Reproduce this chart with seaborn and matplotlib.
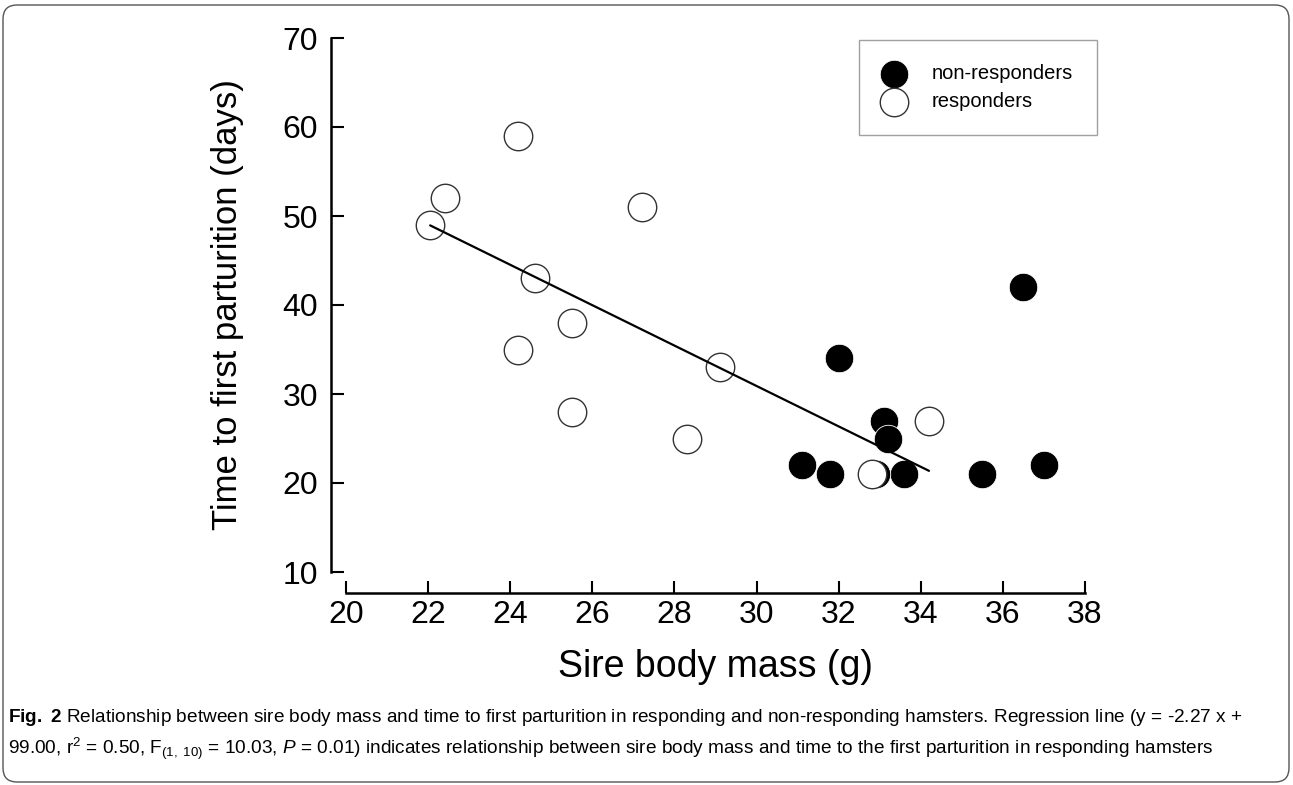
import numpy as np
import pandas as pd
import matplotlib
matplotlib.use("Agg")
import matplotlib.pyplot as plt
from matplotlib import font_manager
from matplotlib.patches import FancyBboxPatch
import seaborn as sns

# ---- data ----
# responders (open circles)
resp_mass = [22.05, 22.4, 24.2, 27.2, 24.6, 24.2, 25.5, 25.5, 28.3, 29.1, 34.2, 32.8]
resp_days = [49, 52, 59, 51, 43, 35, 38, 28, 25, 33, 27, 21]
# non-responders (filled circles)
nonresp_mass = [31.1, 31.8, 32.0, 33.1, 33.2, 33.6, 35.5, 36.5, 37.0, 32.9]
nonresp_days = [22, 21, 34, 27, 25, 21, 21, 42, 22, 21]

# regression line for responders, from the caption
slope, intercept = -2.27, 99.00

x_ticks = list(range(20, 39, 2))
y_ticks = list(range(10, 71, 10))

caption = (r"$\mathbf{Fig.\ 2}$ Relationship between sire body mass and time to first parturition in "
           r"responding and non-responding hamsters. Regression line (y = -2.27 x +" "\n"
           r"99.00, r$^2$ = 0.50, F$_{(1,\ 10)}$ = 10.03, $P$ = 0.01) indicates relationship between "
           r"sire body mass and time to the first parturition in responding hamsters")

resp = pd.DataFrame({"mass": resp_mass, "days": resp_days})
nonresp = pd.DataFrame({"mass": nonresp_mass, "days": nonresp_days})

# ---- style ----
sns.set_style("ticks")
plt.rcParams['font.family'] = ['Liberation Sans', 'DejaVu Sans']
for k in ('text.color', 'axes.labelcolor', 'xtick.color', 'ytick.color', 'axes.edgecolor'):
    plt.rcParams[k] = 'black'

installed = {f.name for f in font_manager.fontManager.ttflist}
cap_font = 'Liberation Sans Narrow' if 'Liberation Sans Narrow' in installed else 'Liberation Sans'
plt.rcParams['mathtext.fontset'] = 'custom'
plt.rcParams['mathtext.rm'] = cap_font
plt.rcParams['mathtext.it'] = cap_font + ':italic'
plt.rcParams['mathtext.bf'] = cap_font + ':bold'

fig = plt.figure(figsize=(12.93, 7.85), dpi=100)
W, H = 1293, 785
ax = fig.add_axes([346 / W, 1 - 572 / H, (1085 - 346) / W, (572 - 38) / H])

# filled first, open on top, line over everything
sns.scatterplot(data=nonresp, x="mass", y="days", ax=ax, s=420, color="black",
                edgecolor="white", linewidth=0.6, label="non-responders", zorder=3)
sns.scatterplot(data=resp, x="mass", y="days", ax=ax, s=420, color="white",
                edgecolor="#333333", linewidth=1.0, label="responders", zorder=4)

fit_x = np.array([resp["mass"].min(), resp["mass"].max()])
fit = pd.DataFrame({"mass": fit_x, "days": slope * fit_x + intercept})
sns.lineplot(data=fit, x="mass", y="days", ax=ax, color="black", linewidth=1.6, zorder=5)

ax.set_xlim(20, 38)
ax.set_ylim(10, 70)
ax.set_xticks(x_ticks)
ax.set_yticks(y_ticks)

sns.despine(ax=ax)
ax.spines['left'].set_position(('outward', 11))
ax.spines['bottom'].set_position(('outward', 15))
for sp in ('left', 'bottom'):
    ax.spines[sp].set_linewidth(1.8)
ax.tick_params(axis='both', direction='in', length=9, width=1.5, labelsize=23)
ax.tick_params(axis='y', pad=9)
ax.tick_params(axis='x', pad=5)

ax.set_xlabel("Sire body mass (g)", fontsize=27, labelpad=14)
ax.set_ylabel("Time to first parturition (days)", fontsize=25, labelpad=28)

leg = ax.legend(loc='upper right', bbox_to_anchor=(1097 / W, 1 - 40 / H),
                bbox_transform=fig.transFigure, frameon=True, fancybox=False,
                fontsize=14.5, borderpad=1.2, labelspacing=0.45, handlelength=1.1,
                handletextpad=1.3, borderaxespad=0)
leg.get_frame().set_edgecolor("#888888")
leg.get_frame().set_linewidth(1.0)

fig.text(8 / W, 1 - 707 / H, caption, fontsize=13.7, family=cap_font,
         ha='left', va='top', linespacing=1.42)

# rounded border round the whole figure
fig.patches.append(FancyBboxPatch((3, 3), 1286, 777, boxstyle="round,pad=0,rounding_size=14",
                                  transform=None, fill=False, ec="#555555", lw=1.0))

fig.savefig("out.png", dpi=100)
